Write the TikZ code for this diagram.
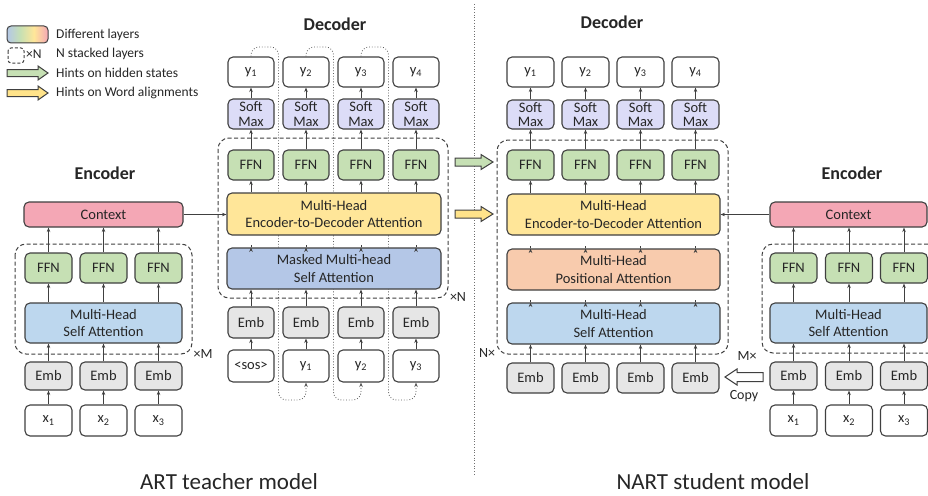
\documentclass[tikz,border=0pt]{standalone}
\usepackage{fontspec}
\setmainfont{Carlito}
\usetikzlibrary{arrows.meta}

\pgfdeclarelayer{backdrop}
\pgfdeclarelayer{behind}
\pgfsetlayers{backdrop,behind,main}

\definecolor{ln}{HTML}{404040}
\definecolor{txt}{HTML}{262626}
\definecolor{ctxc}{HTML}{F4A7B5}
\definecolor{ffnc}{HTML}{C6E0B4}
\definecolor{mhc}{HTML}{BDD7EE}
\definecolor{mmc}{HTML}{B4C7E7}
\definecolor{e2dc}{HTML}{FFE699}
\definecolor{posc}{HTML}{F8CBAD}
\definecolor{smc}{HTML}{DCDCF7}
\definecolor{embc}{HTML}{E6E6E6}
\definecolor{grnc}{HTML}{C6E0B4}
\definecolor{yelc}{HTML}{FFE38A}

\pgfdeclarehorizontalshading{layershade}{100bp}{color(0bp)=(mmc); color(25bp)=(mmc); color(41bp)=(ffnc); color(58bp)=(e2dc); color(75bp)=(ctxc); color(100bp)=(ctxc)}

\tikzset{
  box/.style={draw=ln, line width=1.1pt, rounded corners=5pt, inner sep=0pt, align=center,
    font=\fontsize{14.5}{17.5}\selectfont, text=txt},
  smbox/.style={box, fill=smc, font=\fontsize{14.5}{14.5}\selectfont},
  arr/.style={draw=ln, line width=0.8pt, -{Stealth[length=4.5pt,width=3.5pt]}},
  dbox/.style={draw=ln, line width=1pt, dash pattern=on 4pt off 2.5pt, rounded corners=11pt},
  loopline/.style={draw=ln!85, line width=0.8pt, dotted, rounded corners=8pt, -{Stealth[length=4.5pt,width=3.5pt]}},
  lbl/.style={font=\fontsize{14}{14}\selectfont, text=txt, inner sep=0pt},
  leg/.style={font=\fontsize{13.5}{13.5}\selectfont, text=txt, inner sep=0pt, anchor=west},
  ttl/.style={font=\bfseries\fontsize{18}{18}\selectfont, text=txt, inner sep=0pt},
  captext/.style={font=\fontsize{23}{23}\selectfont, text=txt, inner sep=0pt},
  blockarr/.style={draw=ln, line width=1pt, line join=miter},
}

% right-pointing block arrow: #1 fill, #2 x-left, #3 x-right, #4 y, #5 body half, #6 head half, #7 head length
\newcommand\blockR[7]{%
  \path[blockarr, fill=#1] (#2,#4-#5) -- (#3-#7,#4-#5) -- (#3-#7,#4-#6) -- (#3,#4)
    -- (#3-#7,#4+#6) -- (#3-#7,#4+#5) -- (#2,#4+#5) -- cycle;}
% left-pointing block arrow: #1 fill, #2 x-tip(left), #3 x-tail(right), #4 y, #5 body half, #6 head half, #7 head length
\newcommand\blockL[7]{%
  \path[blockarr, fill=#1] (#3,#4-#5) -- (#2+#7,#4-#5) -- (#2+#7,#4-#6) -- (#2,#4)
    -- (#2+#7,#4+#6) -- (#2+#7,#4+#5) -- (#3,#4+#5) -- cycle;}

\begin{document}
\begin{tikzpicture}[x=1pt,y=-1pt]
\useasboundingbox (0,0) rectangle (928,495);
\begin{pgfonlayer}{backdrop}
\fill[white] (0,0) rectangle (928,495);
\end{pgfonlayer}

% ---------- separator ----------
\coordinate (sepT) at (474,4);
\coordinate (sepB) at (474,476);
\draw[ln!75, line width=0.7pt, dotted] (sepT) -- (sepB);

% ---------- legend ----------
\shade[shading=layershade, rounded corners=4pt] (7,26) rectangle (48,43);
\draw[ln, line width=1pt, rounded corners=4pt] (7,26) rectangle (48,43);
\node[leg] (legA) at (56,35) {Different layers};
\draw[ln, line width=1pt, dash pattern=on 3pt off 2pt, rounded corners=3pt] (8,48) rectangle (24,63);
\node[lbl, anchor=west, font=\fontsize{13.5}{13.5}\selectfont] (legX) at (26,54) {×N};
\node[leg] (legB) at (56,54) {N stacked layers};
\blockR{grnc}{7}{48}{73}{3.5}{7}{10}
\node[leg] (legC) at (56,73) {Hints on hidden states};
\blockR{yelc}{7}{48}{93}{3.5}{7}{10}
\node[leg] (legD) at (56,93) {Hints on Word alignments};

% ---------- titles & captions ----------
\node[ttl] (tEncL) at (105,173) {Encoder};
\node[ttl] (tDecL) at (335,24) {Decoder};
\node[ttl] (tDecR) at (612,22) {Decoder};
\node[ttl] (tEncR) at (852,173) {Encoder};
\node[captext] (capL) at (229,482) {ART teacher model};
\node[captext] (capR) at (713,482) {NART student model};

% ---------- left encoder ----------
\node[box, fill=ctxc, minimum width=159pt, minimum height=25pt] (ctxL) at (103.5,214.5) {Context};
\node[box, fill=mhc, minimum width=157pt, minimum height=40pt] (mhL) at (103.5,323) {Multi-Head\\Self Attention};
\foreach \i/\x in {1/48.5,2/103.5,3/158.5}{
  \node[box, fill=ffnc, minimum width=47pt, minimum height=30pt] (ffnL\i) at (\x,268) {FFN};
  \node[box, fill=embc, minimum width=47pt, minimum height=28pt] (embL\i) at (\x,376) {Emb};
  \node[box, fill=white, minimum width=47pt, minimum height=31pt] (xL\i) at (\x,420.5) {x\textsubscript{\i}};
  \draw[arr] (xL\i.north) -- (embL\i.south);
  \draw[arr] (embL\i.north) -- (embL\i.north |- mhL.south);
  \draw[arr] (mhL.north -| ffnL\i) -- (ffnL\i.south);
  \draw[arr] (ffnL\i.north) -- (ffnL\i.north |- ctxL.south);
}
\draw[dbox] (15,244) rectangle (192,354);
\node[lbl] (xM) at (203,354) {×M};

% ---------- left decoder ----------
\node[box, fill=e2dc, minimum width=214pt, minimum height=42pt] (e2dL) at (334,214) {Multi-Head\\Encoder-to-Decoder Attention};
\node[box, fill=mmc, minimum width=214pt, minimum height=41pt] (mmL) at (334,268.5) {Masked Multi-head\\Self Attention};
\foreach \i/\x/\t in {1/251/{<sos>},2/306/{y\textsubscript{1}},3/361/{y\textsubscript{2}},4/416/{y\textsubscript{3}}}{
  \node[box, fill=white, minimum width=46pt, minimum height=30pt] (yoL\i) at (\x,72) {y\textsubscript{\i}};
  \node[smbox, minimum width=46pt, minimum height=30pt] (smL\i) at (\x,114) {Soft\\Max};
  \node[box, fill=ffnc, minimum width=46pt, minimum height=30pt] (ffnD\i) at (\x,165) {FFN};
  \node[box, fill=embc, minimum width=46pt, minimum height=31pt] (embD\i) at (\x,322.5) {Emb};
  \node[box, fill=white, minimum width=46pt, minimum height=32pt] (yiL\i) at (\x,366) {\t};
  \draw[arr] (yiL\i.north) -- (embD\i.south);
  \draw[arr] (embD\i.north) -- (embD\i.north |- mmL.south);
  \draw[arr] (mmL.north -| embD\i) -- (mmL.north -| embD\i |- e2dL.south);
  \draw[arr] (e2dL.north -| ffnD\i) -- (ffnD\i.south);
  \draw[arr] (ffnD\i.north) -- (smL\i.south);
  \draw[arr] (smL\i.north) -- (yoL\i.south);
}
\begin{pgfonlayer}{behind}
\foreach \i/\j/\s in {1/2/278.5,2/3/333.5,3/4/388.5}{
  \draw[loopline] (yoL\i.north) |- (\s,47) -- (\s,400) -| (yiL\j.south);
}
\end{pgfonlayer}
\draw[dbox] (218,138) rectangle (448,298);
\node[lbl] (xN) at (458,297) {×N};
\draw[arr] (ctxL.east) -- (ctxL.east -| e2dL.west);

% ---------- hint arrows ----------
\blockR{grnc}{455}{493}{162}{4}{7.5}{12}
\blockR{yelc}{455}{493}{214}{4}{7.5}{12}

% ---------- right decoder ----------
\node[box, fill=e2dc, minimum width=213pt, minimum height=41pt] (e2dR) at (613.5,214.5) {Multi-Head\\Encoder-to-Decoder Attention};
\node[box, fill=posc, minimum width=213pt, minimum height=41pt] (posR) at (613.5,269.5) {Multi-Head\\Positional Attention};
\node[box, fill=mhc, minimum width=213pt, minimum height=41pt] (mhR) at (613.5,323.5) {Multi-Head\\Self Attention};
\foreach \i/\x in {1/530.5,2/585.5,3/640.5,4/695.5}{
  \node[box, fill=white, minimum width=47pt, minimum height=30pt] (yoR\i) at (\x,72) {y\textsubscript{\i}};
  \node[smbox, minimum width=47pt, minimum height=29pt] (smR\i) at (\x,114.5) {Soft\\Max};
  \node[box, fill=ffnc, minimum width=47pt, minimum height=30pt] (ffnR\i) at (\x,165) {FFN};
  \node[box, fill=embc, minimum width=47pt, minimum height=30pt] (embR\i) at (\x,378) {Emb};
  \draw[arr] (embR\i.north) -- (embR\i.north |- mhR.south);
  \draw[arr] (mhR.north -| embR\i) -- (mhR.north -| embR\i |- posR.south);
  \draw[arr] (posR.north -| embR\i) -- (posR.north -| embR\i |- e2dR.south);
  \draw[arr] (e2dR.north -| ffnR\i) -- (ffnR\i.south);
  \draw[arr] (ffnR\i.north) -- (smR\i.south);
  \draw[arr] (smR\i.north) -- (yoR\i.south);
}
\draw[dbox] (497,140) rectangle (728,354);
\node[lbl] (Nx) at (487,353) {N×};

% ---------- right encoder ----------
\node[box, fill=ctxc, minimum width=157pt, minimum height=25pt] (ctxR) at (848.5,214.5) {Context};
\node[box, fill=mhc, minimum width=157pt, minimum height=40pt] (mhRE) at (848.5,323) {Multi-Head\\Self Attention};
\foreach \i/\x in {1/793.5,2/849,3/904}{
  \node[box, fill=ffnc, minimum width=47pt, minimum height=30pt] (ffnRE\i) at (\x,268) {FFN};
  \node[box, fill=embc, minimum width=47pt, minimum height=28pt] (embRE\i) at (\x,376) {Emb};
  \node[box, fill=white, minimum width=47pt, minimum height=31pt] (xRE\i) at (\x,420.5) {x\textsubscript{\i}};
  \draw[arr] (xRE\i.north) -- (embRE\i.south);
  \draw[arr] (embRE\i.north) -- (embRE\i.north |- mhRE.south);
  \draw[arr] (mhRE.north -| ffnRE\i) -- (ffnRE\i.south);
  \draw[arr] (ffnRE\i.north) -- (ffnRE\i.north |- ctxR.south);
}
\draw[dbox] (928,244) -- (762,244) -- (762,353) -- (928,353);
\node[lbl] (Mx) at (747,356) {M×};
\draw[arr] (ctxR.west) -- (ctxR.west -| e2dR.east);

% ---------- copy ----------
\blockL{white}{725}{763}{377}{4.5}{8}{12}
\node[lbl] (copy) at (744,396) {Copy};

\end{tikzpicture}
\end{document}
